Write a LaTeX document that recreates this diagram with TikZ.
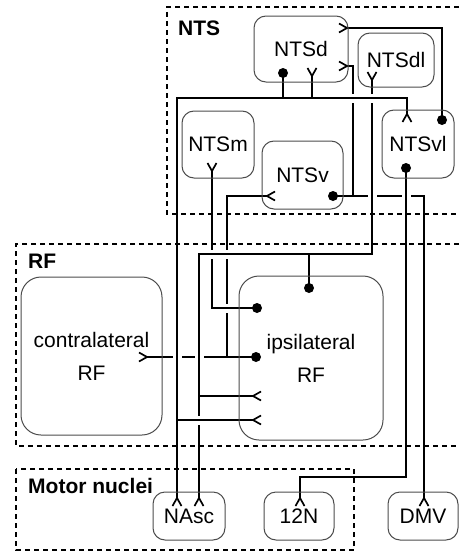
\documentclass[tikz,border=0pt]{standalone}
\usepackage{fontspec}
\setmainfont{Liberation Sans}
\usetikzlibrary{backgrounds}
\tikzset{
  nucleus/.style = {rectangle,
                    draw = black!70,
                    line width = 1pt,
                    rounded corners = 12pt,
                    align = center,
                    font = \fontsize{21}{33}\selectfont,
                    inner sep = 0pt},
  region/.style = {nucleus,
                   rounded corners = 20pt},
  group/.style = {draw,
                  line width = 2pt,
                  dash pattern = on 5pt off 4pt},
  grouplabel/.style = {anchor = base west,
                       inner sep = 0pt,
                       font = \fontsize{21}{24}\selectfont\bfseries},
  wire/.style = {draw,
                 line width = 1.7pt},
  over/.style = {wire,
                 preaction = {draw = white, line width = 9pt}},
  fork/.pic = {\draw[wire, line join = round] (8,-4.5) -- (0,0) -- (8,4.5);}
}

\begin{document}
\begin{tikzpicture}[x = 1pt, y = -1pt]
\useasboundingbox (0,0) rectangle (459,554);

\node[nucleus, minimum width = 94pt, minimum height = 66pt](nts-d) at (301,49) {NTSd};
\node[nucleus, minimum width = 76pt, minimum height = 54pt](nts-dl) at (396,60) {NTSdl};
\node[nucleus, minimum width = 72pt, minimum height = 67pt](nts-m) at (218,144.5) {NTSm};
\node[nucleus, minimum width = 81pt, minimum height = 68pt](nts-v) at (302.5,175) {NTSv};
\node[nucleus, minimum width = 72pt, minimum height = 68pt](nts-vl) at (418,144) {NTSvl};

\node[region, minimum width = 141pt, minimum height = 158pt](rf-contra) at (91.5,356) {contralateral\\RF};
\node[region, minimum width = 144pt, minimum height = 164pt](rf-ipsi) at (311,358) {ipsilateral\\RF};

\node[nucleus, minimum width = 72pt, minimum height = 48pt](nasc) at (189,516) {NAsc};
\node[nucleus, minimum width = 70pt, minimum height = 48pt](n12) at (299,516) {12N};
\node[nucleus, minimum width = 70pt, minimum height = 48pt](dmv) at (423,516) {DMV};

\draw[group] (459,7) -- (167,7) -- (167,214) -- (459,214);
\draw[group] (459,244) -- (16,244) -- (16,446) -- (459,446);
\draw[group] (16,469) rectangle (354,550);
\node[grouplabel](lbl-nts) at (178,35) {NTS};
\node[grouplabel](lbl-rf) at (28,268) {RF};
\node[grouplabel](lbl-motor) at (28,493) {Motor nuclei};

% terminals
\coordinate (d-out) at ([shift={(-18,24)}]nts-d.center);
\coordinate (d-in1) at ([shift={(46,-21)}]nts-d.center);
\coordinate (d-in2) at ([shift={(46,17)}]nts-d.center);
\coordinate (d-in3) at ([shift={(11,27)}]nts-d.center);
\coordinate (dl-in) at ([shift={(-24,20)}]nts-dl.center);
\coordinate (m-in) at ([shift={(-6,26.5)}]nts-m.center);
\coordinate (v-out) at ([shift={(30.5,21)}]nts-v.center);
\coordinate (v-in) at ([shift={(-35.5,21)}]nts-v.center);
\coordinate (vl-in) at ([shift={(-11,-30)}]nts-vl.center);
\coordinate (vl-out1) at ([shift={(24,-24)}]nts-vl.center);
\coordinate (vl-out2) at ([shift={(-12,24)}]nts-vl.center);
\coordinate (c-in) at ([shift={(55.5,1)}]rf-contra.center);
\coordinate (i-out1) at ([shift={(-2,-70)}]rf-ipsi.center);
\coordinate (i-out2) at ([shift={(-54,-50)}]rf-ipsi.center);
\coordinate (i-out3) at ([shift={(-55,-1)}]rf-ipsi.center);
\coordinate (i-in1) at ([shift={(-58,38)}]rf-ipsi.center);
\coordinate (i-in2) at ([shift={(-58,62)}]rf-ipsi.center);
\coordinate (na-in1) at ([shift={(-12,-18)}]nasc.center);
\coordinate (na-in2) at ([shift={(10,-18)}]nasc.center);
\coordinate (n12-in) at ([shift={(1,-18)}]n12.center);
\coordinate (dmv-in) at ([shift={(1,-18)}]dmv.center);

\coordinate (bus-d) at (177,98);
\coordinate (bus-v) at (353,196);
\coordinate (bus-i) at (199,254);
\coordinate (bus-g) at (227,357);

\begin{scope}[on background layer]
\draw[wire] (v-out) -| (dmv-in)
  (d-in2) -| (bus-v);
\draw[wire] (vl-out1) |- (d-in1);
\draw[wire] (i-out3) -- (c-in)
  (v-in) -| (bus-g);

\draw[over] (i-out2) -| (m-in);
\draw[over] (dl-in) |- (bus-i) -- (na-in2)
  (i-out1) -- (i-out1 |- bus-i)
  (i-in1 -| bus-i) -- (i-in1);
\draw[over] (vl-out2) -- ++(0,309) -| (n12-in);
\draw[over] (na-in1) -- (bus-d) -| (vl-in)
  (d-out) -- (d-out |- bus-d)
  (d-in3) -- (d-in3 |- bus-d)
  (i-in2) -- (i-in2 -| bus-d);

\foreach \c in {d-out, v-out, vl-out1, vl-out2, i-out1, i-out2, i-out3}
  \fill (\c) circle (5pt);
\foreach \c/\a in {d-in1/180, d-in2/180, c-in/180, d-in3/90, dl-in/90, m-in/90,
                   v-in/0, i-in1/0, i-in2/0,
                   vl-in/-90, na-in1/-90, na-in2/-90, n12-in/-90, dmv-in/-90}
  \pic[rotate = \a] at (\c) {fork};
\end{scope}

\end{tikzpicture}
\end{document}
